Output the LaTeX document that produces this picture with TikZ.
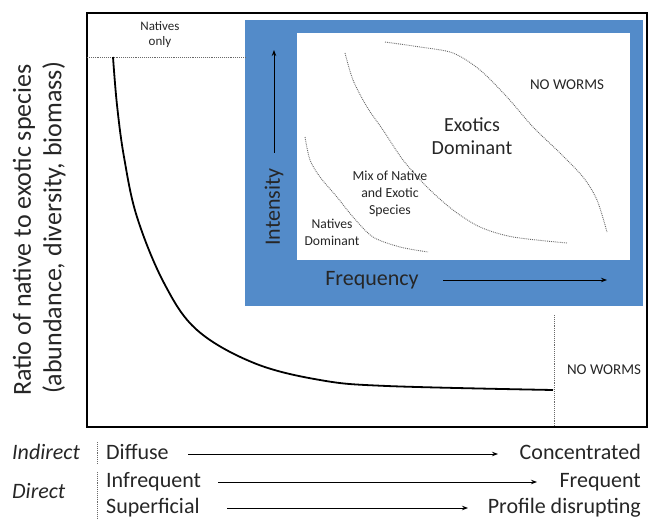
\documentclass[tikz,border=0pt]{standalone}
\usepackage{fontspec}
\setmainfont{Carlito}
\usetikzlibrary{arrows.meta}
\definecolor{boxblue}{RGB}{83,139,201}
\definecolor{txt}{RGB}{38,38,38}
\definecolor{dotgray}{RGB}{105,105,105}
\tikzset{
  lbl/.style={inner sep=0pt, text=txt},
  fs/.style={font=\fontsize{#1}{#1}\selectfont},
  dotline/.style={dotgray, densely dotted, line width=0.9pt},
  arr/.style={line width=1pt, -{Stealth[length=6pt,width=4.5pt]}},
}
\begin{document}
\begin{tikzpicture}[x=1pt,y=-1pt]
\useasboundingbox (0,0) rectangle (649,519);
% main frame
\draw[line width=2.4pt] (87,13) rectangle (647,427);
% blue inset
\fill[boxblue] (245,20) rectangle (643,306);
\fill[white] (297,33) rectangle (630,260);
% natives only line
\coordinate (nl1) at (87,57);
\coordinate (nl2) at (245,57);
\draw[dotline] (nl1) -- (nl2);
\node[lbl, align=center, font=\fontsize{13}{15}\selectfont] (natonly) at (160,35) {Natives\\only};
% main curve
\draw[line width=1.8pt] plot[smooth, tension=0.6] coordinates {(113,57) (117,105) (124,157) (137,217) (164,283) (197,330) (254,363) (320,380) (387,386) (553,390)};
% no worms line
\coordinate (nw1) at (554,315);
\coordinate (nw2) at (554,427);
\draw[dotline] (nw1) -- (nw2);
\node[lbl, fs=15] (noworms) at (604,370) {NO WORMS};
% y-axis label
\node[lbl, fs=26, rotate=90] (ylab1) at (24,230) {Ratio of native to exotic species};
\node[lbl, fs=26, rotate=90] (ylab2) at (54,228) {(abundance, diversity, biomass)};
% inset axes
\node[lbl, fs=22, rotate=90] (intens) at (274,207) {Intensity};
\coordinate (ia1) at (274,153);
\coordinate (ia2) at (274,50);
\draw[arr] (ia1) -- (ia2);
\node[lbl, fs=22] (freq) at (372,280) {Frequency};
\coordinate (fa1) at (443,280);
\coordinate (fa2) at (607,280);
\draw[arr] (fa1) -- (fa2);
% inset curves
\draw[dotline] plot[smooth] coordinates {(305,137) (310,160) (320,177) (337,197) (353,217) (373,237) (400,247) (428,252)};
\draw[dotline] plot[smooth] coordinates {(345,53) (353,80) (367,107) (383,130) (403,160) (427,187) (453,210) (480,227) (513,237) (567,243)};
\draw[dotline] plot[smooth] coordinates {(385,42) (420,47) (453,53) (480,70) (507,97) (533,127) (560,153) (583,177) (597,200) (607,232)};
% inset labels
\node[lbl, fs=15] (inw) at (567,85) {NO WORMS};
\node[lbl, align=center, font=\fontsize{20}{23}\selectfont] (exo) at (472,136) {Exotics\\Dominant};
\node[lbl, align=center, font=\fontsize{13.8}{17}\selectfont] (mix) at (390,194) {Mix of Native\\and Exotic\\Species};
\node[lbl, align=center, font=\fontsize{13.6}{17}\selectfont] (natdom) at (332,232) {Natives\\Dominant};
% bottom legend
\node[lbl, anchor=base west, font=\fontsize{22}{22}\selectfont\itshape] (indirect) at (12,459) {Indirect};
\node[lbl, anchor=base west, font=\fontsize{22}{22}\selectfont\itshape] (direct) at (12,498) {Direct};
\coordinate (s1a) at (97,442);
\coordinate (s1b) at (97,464);
\coordinate (s2a) at (97,472);
\coordinate (s2b) at (97,519);
\draw[dotline] (s1a) -- (s1b);
\draw[dotline] (s2a) -- (s2b);
\node[lbl, fs=22, anchor=base west] (diffuse) at (106,459) {Diffuse};
\node[lbl, fs=22, anchor=base west] (infreq) at (106,487) {Infrequent};
\node[lbl, fs=22, anchor=base west] (superf) at (106,513) {Superficial};
\node[lbl, fs=22, anchor=base east] (conc) at (641,459) {Concentrated};
\node[lbl, fs=22, anchor=base east] (freqt) at (641,487) {Frequent};
\node[lbl, fs=22, anchor=base east] (prof) at (641,513) {Profile disrupting};
\coordinate (b1a) at (188,454);
\coordinate (b1b) at (498,454);
\coordinate (b2a) at (218,482);
\coordinate (b2b) at (537,482);
\coordinate (b3a) at (227,508);
\coordinate (b3b) at (468,508);
\draw[arr] (b1a) -- (b1b);
\draw[arr] (b2a) -- (b2b);
\draw[arr] (b3a) -- (b3b);
\end{tikzpicture}
\end{document}
